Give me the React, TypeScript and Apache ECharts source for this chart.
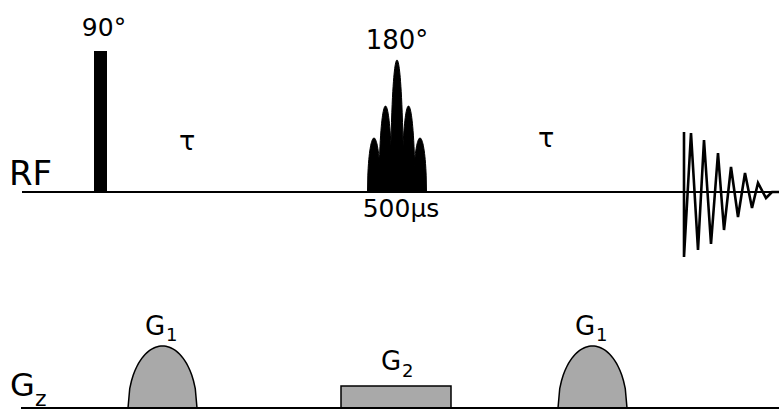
import React, { useEffect, useRef } from "react";
import * as echarts from "echarts";

// ---- data (x: time axis units, y: amplitude units above each baseline) ----
const rfBaseline: [number, number][] = [[22, 0], [779, 0]];
const gzBaseline: [number, number][] = [[21, 0], [779, 0]];

// 90° hard pulse: [start, end, amplitude]
const pulse90: [number, number, number][] = [[94, 107, 141]];

// 180° sinc pulse lobes: [centre, half width, amplitude]
const sincCentres = [374, 385.5, 397, 408.5, 420];
const sincHeights = [54, 86, 132, 86, 54];
const sincHalfWidth = 6.5;

// FID (echo) samples: [time, amplitude]
const fidPoints: [number, number][] = [
  [684, 0], [684, 60], [684, -65], [691, 59], [698, -58], [704, 52], [711, -52],
  [718, 39], [724, -38], [731, 25], [738, -25], [745, 19], [752, -16],
  [758, 9], [766, -6], [772, 0], [779, 0],
];

// Gradient lobes G1: [centre, half width, amplitude]
const g1Lobes: [number, number, number][] = [[162.5, 34.5, 62], [592.5, 34.5, 62]];
// Gradient G2 rect: [start, end, amplitude]
const g2Pulse: [number, number, number][] = [[341, 451, 22]];

const GREY = "#a9a9a9";
const FONT = "DejaVu Sans";

function lobePolygon(api: any, c: number, hw: number, h: number, style: any) {
  const pts: number[][] = [];
  const n = 40;
  for (let i = 0; i <= n; i++) {
    const t = -1 + (2 * i) / n;
    pts.push(api.coord([c + t * hw, h * Math.sqrt(Math.max(0, 1 - t * t))]));
  }
  return { type: "polygon", shape: { points: pts }, style };
}

export default function App() {
  const ref = useRef<HTMLDivElement>(null);
  useEffect(() => {
    if (!ref.current) return;
    const chart = echarts.init(ref.current, undefined, { renderer: "svg" });
    const sincData = sincCentres.map((c, i) => [c, sincHalfWidth, sincHeights[i]]);
    const text = (t: string, x: number, y: number, size: number, align = "center") => ({
      type: "text",
      x,
      y,
      style: {
        text: t,
        fontFamily: FONT,
        fontSize: size,
        fill: "#000",
        align,
        verticalAlign: "middle",
      },
      z: 10,
    });
    chart.setOption({
      animation: false,
      backgroundColor: "#fff",
      grid: [
        { left: 0, top: 0, width: 779, height: 300 },
        { left: 0, top: 300, width: 779, height: 110 },
      ],
      xAxis: [
        { type: "value", gridIndex: 0, min: 0, max: 779, show: false },
        { type: "value", gridIndex: 1, min: 0, max: 779, show: false },
      ],
      yAxis: [
        { type: "value", gridIndex: 0, min: -108, max: 192, show: false },
        { type: "value", gridIndex: 1, min: -2, max: 108, show: false },
      ],
      series: [
        {
          type: "custom",
          xAxisIndex: 0,
          yAxisIndex: 0,
          clip: false,
          data: pulse90,
          renderItem: (params: any, api: any) => {
            const p0 = api.coord([api.value(0), api.value(2)]);
            const p1 = api.coord([api.value(1), 0]);
            return {
              type: "rect",
              shape: { x: p0[0], y: p0[1], width: p1[0] - p0[0], height: p1[1] - p0[1] },
              style: { fill: "#000" },
            };
          },
        },
        {
          type: "custom",
          xAxisIndex: 0,
          yAxisIndex: 0,
          clip: false,
          data: sincData,
          renderItem: (params: any, api: any) =>
            lobePolygon(api, api.value(0), api.value(1), api.value(2), { fill: "#000", stroke: "#000", lineWidth: 1 }),
        },
        {
          type: "line",
          xAxisIndex: 0,
          yAxisIndex: 0,
          data: fidPoints,
          symbol: "none",
          clip: false,
          lineStyle: { color: "#000", width: 2.6, join: "miter" },
          z: 3,
        },
        {
          type: "line",
          xAxisIndex: 0,
          yAxisIndex: 0,
          data: rfBaseline,
          symbol: "none",
          clip: false,
          lineStyle: { color: "#000", width: 2 },
          z: 4,
        },
        {
          type: "custom",
          xAxisIndex: 1,
          yAxisIndex: 1,
          clip: false,
          data: g1Lobes,
          renderItem: (params: any, api: any) =>
            lobePolygon(api, api.value(0), api.value(1), api.value(2), { fill: GREY, stroke: "#000", lineWidth: 1.5 }),
        },
        {
          type: "custom",
          xAxisIndex: 1,
          yAxisIndex: 1,
          clip: false,
          data: g2Pulse,
          renderItem: (params: any, api: any) => {
            const p0 = api.coord([api.value(0), api.value(2)]);
            const p1 = api.coord([api.value(1), 0]);
            return {
              type: "rect",
              shape: { x: p0[0], y: p0[1], width: p1[0] - p0[0], height: p1[1] - p0[1] },
              style: { fill: GREY, stroke: "#000", lineWidth: 1.5 },
            };
          },
        },
        {
          type: "line",
          xAxisIndex: 1,
          yAxisIndex: 1,
          data: gzBaseline,
          symbol: "none",
          clip: false,
          lineStyle: { color: "#000", width: 2 },
          z: 4,
        },
      ],
      graphic: [
        text("90°", 104, 27, 25),
        text("180°", 397, 40, 26),
        text("500µs", 401, 208, 25),
        text("τ", 187, 140, 27),
        text("τ", 546, 137, 27),
        text("RF", 9, 173, 34, "left"),
        text("G", 10, 385, 32, "left"),
        text("z", 35, 398, 22, "left"),
        text("G", 145, 326, 26, "left"),
        text("1", 166, 334, 18, "left"),
        text("G", 575, 326, 26, "left"),
        text("1", 596, 334, 18, "left"),
        text("G", 381, 361, 26, "left"),
        text("2", 402, 370, 18, "left"),
      ],
    });
    return () => chart.dispose();
  }, []);
  return (
    <div
      ref={ref}
      style={{ position: "absolute", left: 0, top: 0, width: 779, height: 410 }}
    />
  );
}
